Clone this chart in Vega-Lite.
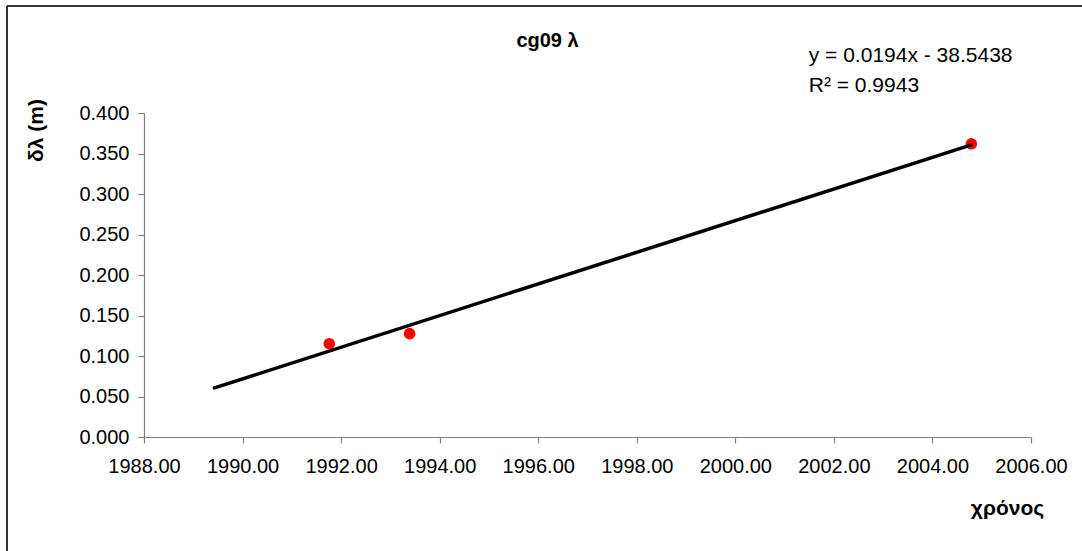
{
  "$schema": "https://vega.github.io/schema/vega-lite/v6.json",
  "width": 887,
  "height": 324,
  "autosize": {"type": "none"},
  "padding": {"left": 144, "top": 113, "right": 51, "bottom": 114},
  "background": "white",
  "config": {
    "font": "Liberation Sans",
    "view": {"stroke": null},
    "axis": {
      "grid": false,
      "domainColor": "#808080",
      "tickColor": "#808080",
      "domainWidth": 1.2,
      "tickWidth": 1.2,
      "tickSize": 6,
      "labelColor": "black",
      "labelFont": "Liberation Sans",
      "labelFontSize": 20,
      "labelOverlap": false,
      "labelFlush": false,
      "titleFont": "Liberation Sans",
      "titleFontWeight": "bold",
      "titleColor": "black",
      "titleFontSize": 21
    }
  },
  "title": {
    "text": "cg09 λ",
    "font": "Liberation Sans",
    "fontSize": 20,
    "fontWeight": "bold",
    "color": "black",
    "anchor": "middle",
    "frame": "group",
    "dx": -40,
    "offset": -46
  },
  "layer": [
    {
      "data": {"values": [{}]},
      "mark": {"type": "rule", "color": "#333333", "strokeWidth": 2},
      "encoding": {
        "x": {"datum": 1985.22, "type": "quantitative"},
        "y": {"datum": 0.5321, "type": "quantitative"},
        "y2": {"datum": -0.3}
      }
    },
    {
      "data": {"values": [{}]},
      "mark": {"type": "rule", "color": "#333333", "strokeWidth": 2},
      "encoding": {
        "x": {"datum": 1985.22, "type": "quantitative"},
        "x2": {"datum": 2009},
        "y": {"datum": 0.5321, "type": "quantitative"}
      }
    },
    {
      "data": {
        "name": "survey",
        "values": [
          {"year": 1991.76, "dl": 0.1152},
          {"year": 1993.39, "dl": 0.1276},
          {"year": 2004.79, "dl": 0.362}
        ]
      },
      "layer": [
        {
          "mark": {"type": "point", "filled": true, "color": "#ff0000", "size": 135, "opacity": 1},
          "encoding": {
            "x": {
              "field": "year",
              "type": "quantitative",
              "scale": {"domain": [1988, 2006], "nice": false, "zero": false},
              "axis": {
                "values": [1988, 1990, 1992, 1994, 1996, 1998, 2000, 2002, 2004, 2006],
                "format": ".2f",
                "labelPadding": 13,
                "title": "χρόνος",
                "titleX": 863,
                "titleY": 71,
                "titleAlign": "center",
                "titleBaseline": "middle"
              }
            },
            "y": {
              "field": "dl",
              "type": "quantitative",
              "scale": {"domain": [0, 0.4], "nice": false},
              "axis": {
                "values": [0, 0.05, 0.1, 0.15, 0.2, 0.25, 0.3, 0.35, 0.4],
                "format": ".3f",
                "labelPadding": 9,
                "title": "δλ (m)",
                "titleAngle": -90,
                "titleX": -108,
                "titleY": 17,
                "titleAlign": "center",
                "titleBaseline": "middle"
              }
            }
          }
        },
        {
          "transform": [
            {"regression": "dl", "on": "year", "extent": [1989.43, 2004.79]}
          ],
          "mark": {"type": "line", "color": "black", "strokeWidth": 3.5, "strokeCap": "round"},
          "encoding": {
            "x": {"field": "year", "type": "quantitative"},
            "y": {"field": "dl", "type": "quantitative"}
          }
        }
      ]
    },
    {
      "data": {"values": [{}]},
      "mark": {
        "type": "text",
        "align": "left",
        "baseline": "alphabetic",
        "font": "Liberation Sans",
        "fontSize": 21,
        "fontWeight": "normal",
        "lineHeight": 30,
        "color": "black"
      },
      "encoding": {
        "x": {"datum": 2001.49, "type": "quantitative"},
        "y": {"datum": 0.4633, "type": "quantitative"},
        "text": {"value": ["y = 0.0194x  - 38.5438", "R² = 0.9943"]}
      }
    }
  ]
}
